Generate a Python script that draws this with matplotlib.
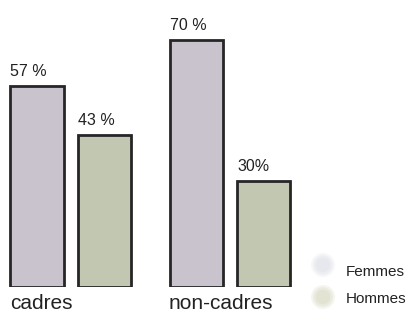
import matplotlib
matplotlib.use("Agg")
import matplotlib.pyplot as plt
import numpy as np

plt.rcParams['font.family'] = ['Liberation Sans', 'DejaVu Sans']

categories = ["cadres", "non-cadres"]
series_names = ["Femmes", "Hommes"]
femmes = [57, 70]
hommes = [43, 30]
femmes_labels = ["57 %", "70 %"]
hommes_labels = ["43 %", "30%"]

col_f = "#c8c3cc"
col_h = "#c1c7b1"
edge = "#262626"
txt = "#222222"

W, H = 415, 315
fig = plt.figure(figsize=(W/100, H/100), dpi=100)
ax = fig.add_axes([0, 28/H, 1, 282.6/H])
ax.set_ylim(0, 80)
ax.set_xlim(-70.75/159.25, (415-70.75)/159.25)
ax.axis('off')

x = np.arange(len(categories))
w = 0.333
off = 0.212
bf = ax.bar(x - off, femmes, w, color=col_f, edgecolor=edge, linewidth=2)
bh = ax.bar(x + off, hommes, w, color=col_h, edgecolor=edge, linewidth=2)

for bars, labels in ((bf, femmes_labels), (bh, hommes_labels)):
    for b, lab in zip(bars, labels):
        ax.annotate(lab, xy=(b.get_x(), b.get_height()), xytext=(0, 7.2),
                    textcoords='offset points', ha='left', va='baseline',
                    fontsize=11.5, color=txt)

for i, cat in enumerate(categories):
    ax.annotate(cat, xy=(x[i] - off - w/2, 0), xytext=(-0.5, -15.8),
                textcoords='offset points', ha='left', va='baseline',
                fontsize=15, color=txt)

# legend
circ_y = [1 - 265/H, 1 - 297/H]
text_y = [1 - 276/H, 1 - 303/H]
leg_cols = ["#e5e7ed", "#e1e1d0"]
for cy, ty, c, name in zip(circ_y, text_y, leg_cols, series_names):
    for s, a in ((300, 0.3), (200, 0.5), (110, 0.75)):
        ax.scatter([323/W], [cy], s=s, color=c, alpha=a, edgecolors='none',
                   transform=fig.transFigure, clip_on=False)
    fig.text(346/W, ty, name, fontsize=11, color=txt, va='baseline', ha='left')

fig.savefig("out.png", dpi=100)
